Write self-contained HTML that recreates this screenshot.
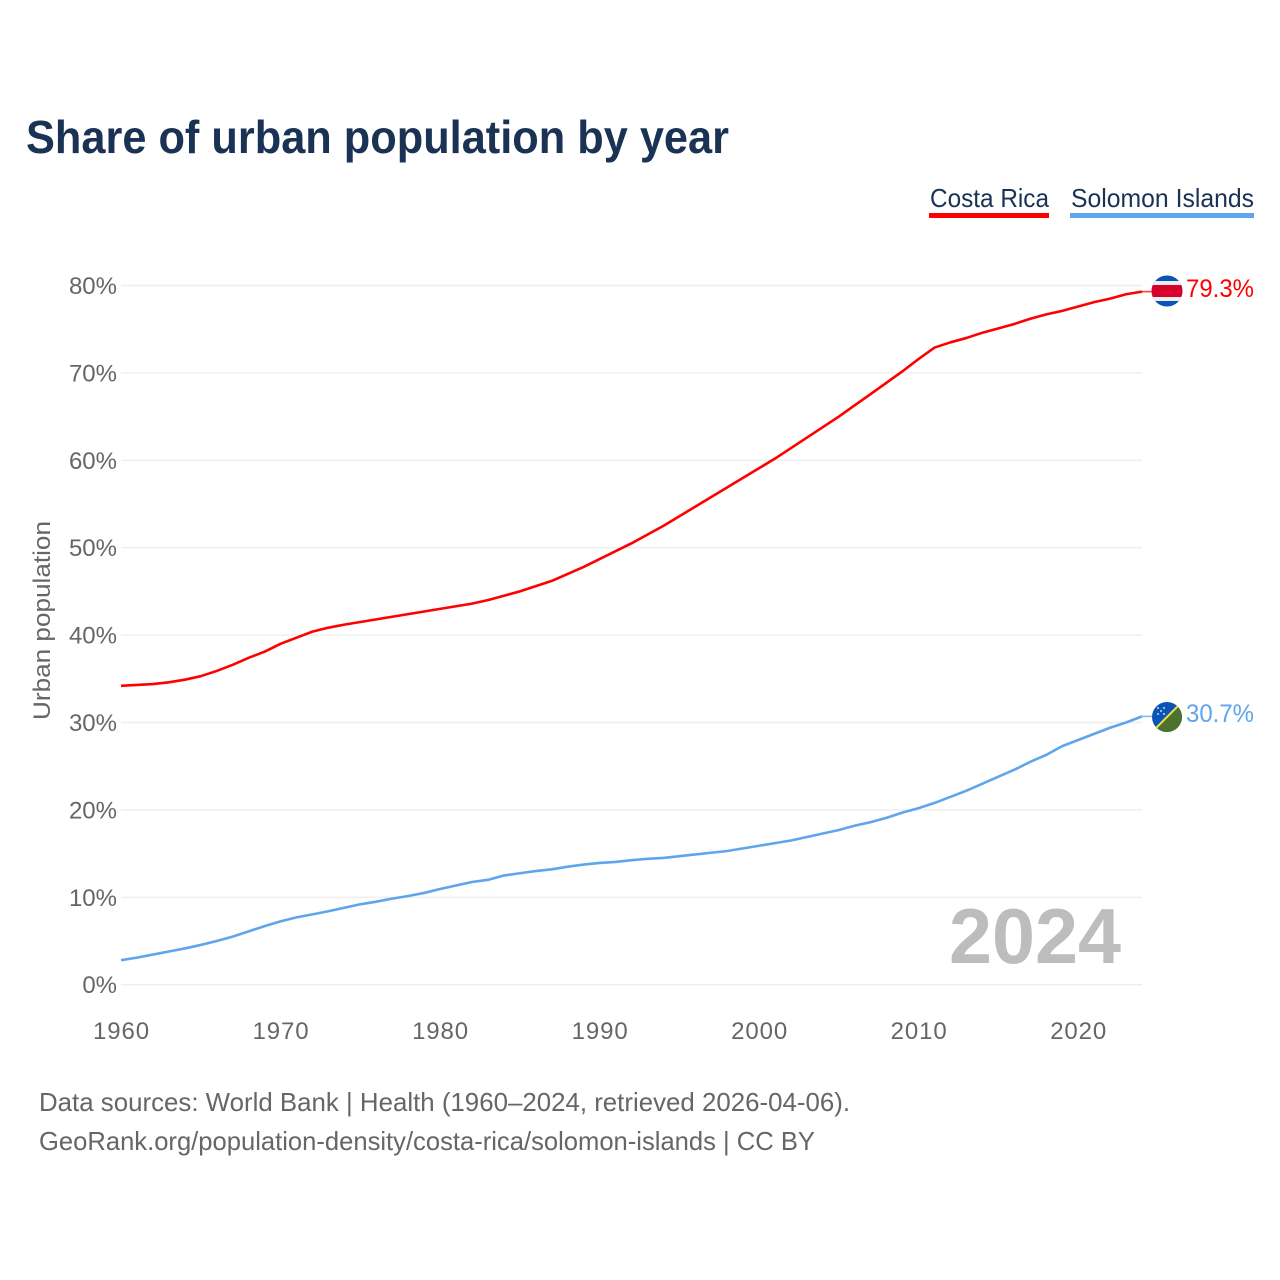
<!DOCTYPE html>
<html lang="en">
<head>
<meta charset="utf-8">
<title>Share of urban population by year</title>
<style>
html,body{margin:0;padding:0;background:#fff;width:1280px;height:1280px;overflow:hidden}
svg{display:block;font-family:"Liberation Sans",sans-serif}
</style>
</head>
<body>
<svg id="chart" xmlns="http://www.w3.org/2000/svg" width="1280" height="1280" viewBox="0 0 1280 1280">
  <rect width="1280" height="1280" fill="#fff"/>
  <text x="26" y="153" font-size="46" font-weight="700" fill="#1a3254" textLength="703" lengthAdjust="spacingAndGlyphs">Share of urban population by year</text>

  <g>
    <g>
      <text x="930" y="207" font-size="26" fill="#1a3254" textLength="119" lengthAdjust="spacingAndGlyphs">Costa Rica</text>
      <rect x="929" y="213" width="120" height="5" fill="#ff0000"/>
    </g>
    <g>
      <text x="1071" y="207" font-size="26" fill="#1a3254" textLength="183" lengthAdjust="spacingAndGlyphs">Solomon Islands</text>
      <rect x="1070" y="213" width="184" height="5" fill="#5fa5ec"/>
    </g>
  </g>

  <g id="grid"></g>
  <g id="yticks"></g>
  <g id="xticks"></g>

  <text transform="translate(50,720) rotate(-90)" font-size="24" fill="#666" textLength="199" lengthAdjust="spacingAndGlyphs">Urban population</text>

  <text x="1121" y="963" text-anchor="end" font-size="78" font-weight="700" fill="#bdbdbd" textLength="172" lengthAdjust="spacingAndGlyphs">2024</text>

  <g id="series"></g>

  <defs>
    <clipPath id="clip-cr"><circle cx="1167" cy="291" r="15.5"/></clipPath>
    <clipPath id="clip-sb"><circle cx="1167" cy="717" r="15"/></clipPath>
  </defs>

  <g clip-path="url(#clip-cr)">
    <rect x="1150" y="275" width="34" height="32" fill="#0a55b4"/>
    <rect x="1150" y="281" width="34" height="20" fill="#eeeeee"/>
    <rect x="1150" y="285" width="34" height="12" fill="#d6002a"/>
  </g>
  <g clip-path="url(#clip-sb)">
    <rect x="1150" y="700" width="34" height="34" fill="#0a55b4"/>
    <polygon points="1184,700 1184,734 1150,734" fill="#4c722c"/>
    <line x1="1150" y1="734" x2="1184" y2="700" stroke="#f5dc4a" stroke-width="2"/>
    <circle cx="1158" cy="708" r="0.9" fill="#fff"/><circle cx="1164" cy="708" r="0.9" fill="#fff"/>
    <circle cx="1161" cy="711" r="0.9" fill="#fff"/><circle cx="1158" cy="714" r="0.9" fill="#fff"/>
    <circle cx="1164" cy="714" r="0.9" fill="#fff"/>
  </g>

  <g id="endlabels"></g>

  <text x="39" y="1111" font-size="26" fill="#666" textLength="811" lengthAdjust="spacingAndGlyphs">Data sources: World Bank | Health (1960–2024, retrieved 2026-04-06).</text>
  <text x="39" y="1150" font-size="26" fill="#666" textLength="776" lengthAdjust="spacingAndGlyphs">GeoRank.org/population-density/costa-rica/solomon-islands | CC BY</text>
</svg>

<script>
const startYear = 1960;
const endYear = 2024;
const yTickValues = [0, 10, 20, 30, 40, 50, 60, 70, 80];
const xTickValues = [1960, 1970, 1980, 1990, 2000, 2010, 2020];
const costaRica = [
  34.2, 34.3, 34.4, 34.6, 34.9, 35.3, 35.9, 36.6, 37.4, 38.1,
  39.0, 39.7, 40.4, 40.85, 41.2, 41.5, 41.8, 42.1, 42.4, 42.7,
  43.0, 43.3, 43.6, 44.0, 44.5, 45.0, 45.6, 46.2, 47.0, 47.8,
  48.7, 49.6, 50.5, 51.5, 52.5, 53.6, 54.7, 55.8, 56.9, 58.0,
  59.1, 60.2, 61.4, 62.6, 63.8, 65.0, 66.3, 67.6, 68.9, 70.2,
  71.6, 72.9, 73.5, 74.0, 74.6, 75.1, 75.6, 76.2, 76.7, 77.1,
  77.6, 78.1, 78.5, 79.0, 79.3
];
const solomonIslands = [
  2.8, 3.1, 3.45, 3.8, 4.15, 4.55, 5.0, 5.5, 6.1, 6.7,
  7.25, 7.7, 8.05, 8.4, 8.8, 9.2, 9.5, 9.85, 10.15, 10.5,
  10.95, 11.35, 11.75, 12.0, 12.5, 12.75, 13.0, 13.2, 13.5, 13.75,
  13.93, 14.05, 14.25, 14.4, 14.5, 14.7, 14.9, 15.1, 15.3, 15.6,
  15.9, 16.2, 16.5, 16.9, 17.3, 17.7, 18.2, 18.6, 19.1, 19.7,
  20.2, 20.8, 21.5, 22.2, 23.0, 23.8, 24.6, 25.5, 26.3, 27.3,
  28.0, 28.7, 29.4, 30.0, 30.7
];

const NS = 'http://www.w3.org/2000/svg';
const plotLeft = 121;
const plotRight = 1142;
const plotBottom = 984.7;
const pxPerPercent = 8.74;
const x = year => plotLeft + (year - startYear) * (plotRight - plotLeft) / (endYear - startYear);
const y = value => plotBottom - value * pxPerPercent;

const make = (tag, attrs, text) => {
  const el = document.createElementNS(NS, tag);
  for (const k in attrs) el.setAttribute(k, attrs[k]);
  if (text !== undefined) el.textContent = text;
  return el;
};

const gridG = document.getElementById('grid');
const yG = document.getElementById('yticks');
yTickValues.forEach(v => {
  const line = make('line', {x1: plotLeft, x2: plotRight, y1: y(v), y2: y(v), stroke: '#eeeeee', 'stroke-width': 1.4});
  
  
  gridG.appendChild(line);
  const label = make('text', {x: 117, y: y(v) + 8.5, 'text-anchor': 'end', 'font-size': 24, fill: '#666'}, v + '%');
  
  
  yG.appendChild(label);
});

const xG = document.getElementById('xticks');
xTickValues.forEach(v => {
  const label = make('text', {x: x(v) + 0.5, y: 1039, 'text-anchor': 'middle', 'font-size': 24, 'letter-spacing': 0.9, fill: '#666'}, String(v));
  
  
  xG.appendChild(label);
});

const seriesG = document.getElementById('series');
const labelG = document.getElementById('endlabels');
const drawSeries = (values, color, slug) => {
  const pts = values.map((v, i) => x(startYear + i).toFixed(2) + ',' + y(v).toFixed(2)).join(' ');
  const line = make('polyline', {points: pts, fill: 'none', stroke: color, 'stroke-width': 2.6, 'stroke-linejoin': 'round'});
  
  
  seriesG.appendChild(line);
  const last = values[values.length - 1];
  const stub = make('line', {x1: plotRight, x2: 1153, y1: y(last), y2: y(last), stroke: color, 'stroke-width': 1.6, opacity: 0.75});
  
  
  seriesG.appendChild(stub);
  const label = make('text', {x: 1186, y: y(last) + 5.6, 'font-size': 25, fill: color, textLength: 68, lengthAdjust: 'spacingAndGlyphs'}, last.toFixed(1) + '%');
  
  
  labelG.appendChild(label);
};
drawSeries(costaRica, '#ff0000', 'costa-rica');
drawSeries(solomonIslands, '#5fa5ec', 'solomon-islands');
</script>
</body>
</html>
